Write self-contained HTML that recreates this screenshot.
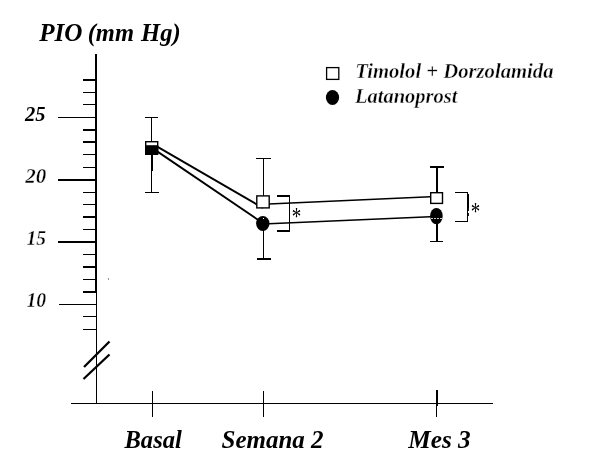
<!DOCTYPE html>
<html>
<head>
<meta charset="utf-8">
<title>PIO (mm Hg)</title>
<style>
html,body{margin:0;padding:0;background:#fff;}
body{width:600px;height:469px;overflow:hidden;}
svg{display:block;}
text{font-family:"Liberation Serif",serif;font-weight:bold;font-style:italic;fill:#000;}
</style>
</head>
<body>
<svg width="600" height="469" viewBox="0 0 600 469">
<rect x="0" y="0" width="600" height="469" fill="#fff"/>

<!-- title -->
<text x="39.2" y="41" font-size="24.8" textLength="43.3" lengthAdjust="spacingAndGlyphs">PIO</text>
<text x="87.7" y="41" font-size="24.8" textLength="46.3" lengthAdjust="spacingAndGlyphs">(mm</text>
<text x="141.1" y="41" font-size="24.8" textLength="39.6" lengthAdjust="spacingAndGlyphs">Hg)</text>

<!-- y axis -->
<g stroke="#000" fill="none" shape-rendering="crispEdges">
<line x1="96" y1="54" x2="96" y2="292" stroke-width="2"/>
<line x1="96.5" y1="292" x2="96.5" y2="404" stroke-width="1"/>
<!-- x axis -->
<line x1="71" y1="403.5" x2="493" y2="403.5" stroke-width="1"/>
<!-- x ticks -->
<line x1="152.5" y1="391" x2="152.5" y2="417" stroke-width="1"/>
<line x1="263.5" y1="391" x2="263.5" y2="417" stroke-width="1"/>
<line x1="436.5" y1="390" x2="436.5" y2="417" stroke-width="1"/>
<line x1="437" y1="390" x2="437" y2="406" stroke-width="2"/>
<!-- minor ticks -->
<g>
<line x1="83" y1="80" x2="96" y2="80" stroke-width="2"/>
<line x1="83" y1="92.5" x2="96" y2="92.5" stroke-width="1"/>
<line x1="83" y1="104.5" x2="96" y2="104.5" stroke-width="1"/>
<line x1="83" y1="130" x2="96" y2="130" stroke-width="2"/>
<line x1="83" y1="142" x2="96" y2="142" stroke-width="2"/>
<line x1="83" y1="154.5" x2="96" y2="154.5" stroke-width="1"/>
<line x1="83" y1="167.5" x2="96" y2="167.5" stroke-width="1"/>
<line x1="83" y1="192.5" x2="96" y2="192.5" stroke-width="1"/>
<line x1="83" y1="204.5" x2="96" y2="204.5" stroke-width="1"/>
<line x1="83" y1="217" x2="96" y2="217" stroke-width="2"/>
<line x1="83" y1="229.5" x2="96" y2="229.5" stroke-width="1"/>
<line x1="83" y1="254.5" x2="96" y2="254.5" stroke-width="1"/>
<line x1="83" y1="267" x2="96" y2="267" stroke-width="2"/>
<line x1="83" y1="279.5" x2="96" y2="279.5" stroke-width="1"/>
<line x1="83" y1="292" x2="96" y2="292" stroke-width="2"/>
<line x1="83" y1="316.5" x2="96" y2="316.5" stroke-width="1"/>
<line x1="83" y1="329.5" x2="96" y2="329.5" stroke-width="1"/>
</g>
<!-- major ticks -->
<line x1="58" y1="117.5" x2="96" y2="117.5" stroke-width="1"/>
<line x1="58" y1="180" x2="96" y2="180" stroke-width="2"/>
<line x1="58" y1="242" x2="96" y2="242" stroke-width="2"/>
<line x1="59" y1="304.5" x2="96" y2="304.5" stroke-width="1"/>
</g>

<!-- axis break -->
<g stroke="#000" stroke-width="2.3" fill="none">
<line x1="84" y1="367" x2="109.5" y2="341.5"/>
<line x1="83.5" y1="379" x2="109.5" y2="354.5"/>
</g>

<!-- y labels -->
<text x="25" y="121" font-size="21" textLength="20.5" lengthAdjust="spacingAndGlyphs">25</text>
<text x="25.3" y="182.6" font-size="21" textLength="21" lengthAdjust="spacingAndGlyphs" stroke="#fff" stroke-width="0.35">20</text>
<text x="26.5" y="244.8" font-size="21" textLength="19.6" lengthAdjust="spacingAndGlyphs" stroke="#fff" stroke-width="0.35">15</text>
<text x="26.5" y="307" font-size="21" textLength="19.7" lengthAdjust="spacingAndGlyphs" stroke="#fff" stroke-width="0.35">10</text>

<!-- x labels -->
<text x="124.5" y="448.1" font-size="25" textLength="57.3" lengthAdjust="spacingAndGlyphs">Basal</text>
<text x="221.5" y="448.1" font-size="25" textLength="102" lengthAdjust="spacingAndGlyphs">Semana 2</text>
<text x="408.2" y="448.1" font-size="25" textLength="62.5" lengthAdjust="spacingAndGlyphs">Mes 3</text>

<!-- legend -->
<rect x="326.6" y="67.6" width="12.2" height="11.8" fill="#fff" stroke="#000" stroke-width="1.3"/>
<ellipse cx="332.5" cy="97.5" rx="6.6" ry="7.5" fill="#000"/>
<text x="355.3" y="77.7" font-size="20.3" textLength="198.2" lengthAdjust="spacingAndGlyphs" stroke="#fff" stroke-width="0.35">Timolol + Dorzolamida</text>
<text x="355" y="102.7" font-size="20.3" textLength="102.5" lengthAdjust="spacingAndGlyphs" stroke="#fff" stroke-width="0.35">Latanoprost</text>

<!-- error bars -->
<g stroke="#000" fill="none" shape-rendering="crispEdges">
<line x1="151.5" y1="117.5" x2="151.5" y2="142" stroke-width="1"/>
<line x1="151.5" y1="154" x2="151.5" y2="192.5" stroke-width="1"/>
<line x1="152" y1="155" x2="152" y2="171" stroke-width="2"/>
<line x1="145" y1="117.5" x2="158" y2="117.5" stroke-width="1"/>
<line x1="145" y1="192.5" x2="159" y2="192.5" stroke-width="1"/>

<line x1="263.5" y1="159" x2="263.5" y2="196" stroke-width="1"/>
<line x1="263.5" y1="230" x2="263.5" y2="259" stroke-width="1"/>
<line x1="256" y1="158.5" x2="270.5" y2="158.5" stroke-width="1"/>
<line x1="256.5" y1="259" x2="270.5" y2="259" stroke-width="2"/>

<line x1="437" y1="167" x2="437" y2="193" stroke-width="2"/>
<line x1="437" y1="223" x2="437" y2="241" stroke-width="2"/>
<line x1="430" y1="167" x2="444" y2="167" stroke-width="2"/>
<line x1="430" y1="241.5" x2="443" y2="241.5" stroke-width="1"/>
</g>

<!-- connecting lines -->
<g stroke="#000" stroke-width="1.9" fill="none">
<line x1="152" y1="143.6" x2="263" y2="208"/>
<line x1="152" y1="147.9" x2="263" y2="223.2"/>
<line x1="263" y1="204.3" x2="436" y2="196.5" stroke-width="1.4"/>
<line x1="263" y1="224" x2="436" y2="216.5" stroke-width="1.4"/>
</g>

<!-- markers -->
<rect x="145.7" y="141.7" width="12" height="12" fill="#fff" stroke="#000" stroke-width="1.4"/>
<rect x="145" y="145.2" width="13.2" height="9.8" fill="#000"/>

<rect x="256.8" y="195.9" width="12.4" height="12" fill="#fff" stroke="#000" stroke-width="1.4"/>
<ellipse cx="262.8" cy="223.5" rx="6.7" ry="7.5" fill="#000"/>
<rect x="263" y="218" width="1" height="1" fill="#fff"/>

<rect x="430.7" y="192.7" width="11.8" height="10.7" fill="#fff" stroke="#000" stroke-width="1.4"/>
<ellipse cx="436.4" cy="216.1" rx="6.3" ry="8.2" fill="#000"/>
<line x1="431" y1="218.5" x2="442" y2="218.5" stroke="#fff" stroke-width="0.8" stroke-dasharray="2 1"/>

<!-- brackets -->
<path d="M277 196 H290 M277 231 H290" fill="none" stroke="#000" stroke-width="2" shape-rendering="crispEdges"/>
<line x1="289.5" y1="195" x2="289.5" y2="232" stroke="#000" stroke-width="1" shape-rendering="crispEdges"/>
<path d="M455 192.5 H468 M467.5 192 V221.5 M468 221.5 H455" fill="none" stroke="#000" stroke-width="1" shape-rendering="crispEdges"/>
<line x1="468" y1="194" x2="468" y2="208" stroke="#000" stroke-width="2" shape-rendering="crispEdges"/>
<line x1="468.2" y1="208" x2="468.2" y2="216" stroke="#000" stroke-width="1.4" stroke-dasharray="3 2"/>

<!-- asterisks -->
<text transform="translate(291.75,225) scale(1.0,1.3)" font-size="19" style="font-weight:normal;font-style:normal">*</text>
<text transform="translate(470.85,220.3) scale(1.0,1.3)" font-size="19" style="font-weight:normal;font-style:normal">*</text>

<!-- speck -->
<rect x="108" y="278.5" width="1" height="1" fill="#333"/>
</svg>
</body>
</html>
